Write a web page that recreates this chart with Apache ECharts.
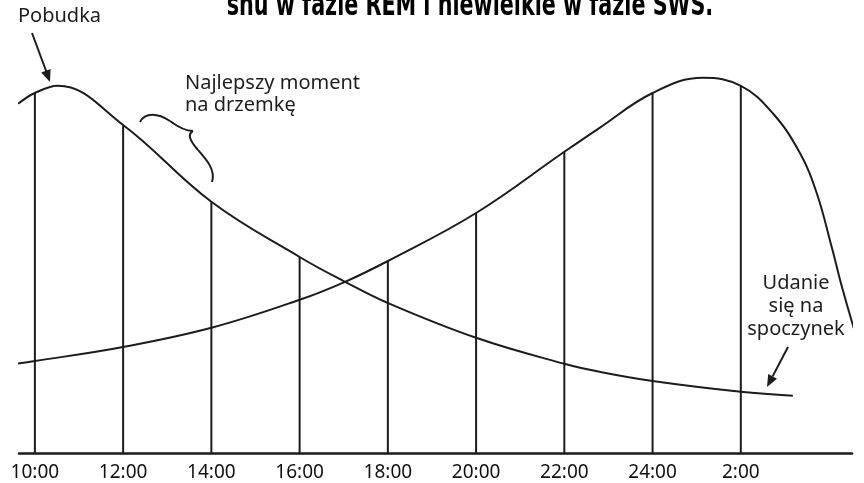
<!DOCTYPE html>
<html>
<head>
<meta charset="utf-8">
<script src="https://cdn.jsdelivr.net/npm/echarts@6/dist/echarts.min.js"></script>
<style>
html,body{margin:0;padding:0;background:#fff;}
#chart{width:864px;height:483px;}
</style>
</head>
<body>
<div id="chart"></div>
<script>
// ---- data ----
const tickHours = [10, 12, 14, 16, 18, 20, 22, 24, 26];
const tickLabels = ['10:00', '12:00', '14:00', '16:00', '18:00', '20:00', '22:00', '24:00', '2:00'];
// curve A (falls after waking)
const curveAHours  = [9.62, 10, 10.52, 12, 14, 16, 17.03, 18, 20, 22, 22.8, 24, 26, 27.18];
const curveAValues = [87.3, 90, 91.8, 82, 62.8, 49, 42.8, 37.5, 28.8, 22.3, 20.3, 18, 15.3, 14.3];
// curve B (rises towards night)
const curveBHours  = [9.34, 10, 12, 14, 16, 17.03, 18, 20, 22, 22.8, 24, 25.14, 26, 26.72, 27.34, 27.72, 28.06, 28.31, 28.76];
const curveBValues = [22, 23, 26.5, 31.3, 38.3, 42.8, 48, 60, 75.3, 81.3, 90, 93.8, 91.8, 85, 75, 65, 51.5, 40.8, 23.8];
// vertical guide lines at every tick, up to the upper curve
const verticalTops = [90, 82, 62.8, 49, 48, 60, 75.3, 90, 91.8];

const titleText = 'snu w fazie REM i niewielkie w fazie SWS.';
const wakeText = 'Pobudka';
const napText = ['Najlepszy moment', 'na drzemkę'];
const bedText = ['Udanie', 'się na', 'spoczynek'];

const INK = '#1c1c1c';
const chart = echarts.init(document.getElementById('chart'), null, {renderer: 'canvas'});

function pairs(xs, ys) { return xs.map((x, i) => [x, ys[i]]); }

const textFont = '20px "Noto Sans", "Open Sans", sans-serif';

function bez(x1, y1, cpx1, cpy1, cpx2, cpy2, x2, y2) {
  return {type: 'bezierCurve', shape: {x1, y1, cpx1, cpy1, cpx2, cpy2, x2, y2}, style: {stroke: INK, fill: null, lineWidth: 2}};
}
function txt(x, y, text, align) {
  return {type: 'text', x, y, style: {text, font: textFont, fill: '#1e1e1e', textAlign: align, textVerticalAlign: 'middle'}};
}

const option = {
  animation: false,
  backgroundColor: '#ffffff',
  grid: {left: 19, right: 12, top: 53, bottom: 30, containLabel: false},
  xAxis: {
    type: 'value', min: 9.64, max: 28.52,
    axisLine: {show: true, onZero: false, lineStyle: {color: INK, width: 2.5}},
    axisTick: {show: false},
    splitLine: {show: false},
    axisLabel: {
      customValues: tickHours,
      formatter: v => tickLabels[tickHours.indexOf(v)] || '',
      color: '#111', fontSize: 19, fontFamily: '"Noto Sans", sans-serif', margin: 10
    }
  },
  yAxis: {type: 'value', min: 0, max: 100, show: false},
  series: [
    {
      type: 'bar', silent: true, barWidth: 2,
      itemStyle: {color: INK},
      data: pairs(tickHours, verticalTops), z: 1
    },
    {
      type: 'line', smooth: 0.4, symbol: 'none', clip: false, silent: true,
      lineStyle: {color: INK, width: 2},
      data: pairs(curveAHours, curveAValues), z: 2
    },
    {
      type: 'line', smooth: 0.4, symbol: 'none', clip: false, silent: true,
      lineStyle: {color: INK, width: 2},
      data: pairs(curveBHours, curveBValues), z: 2
    }
  ],
  graphic: [
    {type: 'text', x: 470, y: 23, scaleX: 0.69, scaleY: 1.08, style: {text: titleText, font: 'bold 30px "DejaVu Sans", sans-serif', fill: '#000', textAlign: 'center', textVerticalAlign: 'bottom'}},
    txt(18, 16, wakeText, 'left'),
    {type: 'line', shape: {x1: 32, y1: 33, x2: 46.5, y2: 72}, style: {stroke: INK, lineWidth: 2}},
    {type: 'polygon', shape: {points: [[50, 82], [50.6, 69], [41.2, 72.4]]}, style: {fill: INK}},
    txt(185, 83, napText[0], 'left'),
    txt(185, 105, napText[1], 'left'),
    bez(140, 122, 145, 112, 158, 113, 170, 121),
    bez(170, 121, 178, 127, 185, 131, 193, 131),
    bez(193, 131, 187, 134, 190, 141, 198, 150),
    bez(198, 150, 206, 159, 216, 170, 212, 182),
    txt(796, 283, bedText[0], 'center'),
    txt(796, 306, bedText[1], 'center'),
    txt(796, 329, bedText[2], 'center'),
    {type: 'line', shape: {x1: 788, y1: 347, x2: 772.6, y2: 376.4}, style: {stroke: INK, lineWidth: 2}},
    {type: 'polygon', shape: {points: [[767, 387], [777, 378.7], [768.2, 374.1]]}, style: {fill: INK}}
  ]
};
chart.setOption(option);
</script>
</body>
</html>
